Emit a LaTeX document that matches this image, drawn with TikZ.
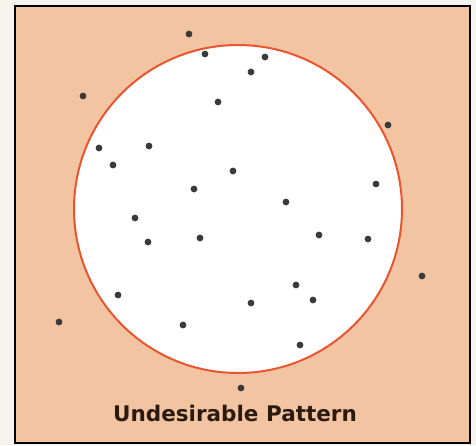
\documentclass[tikz,border=0pt]{standalone}
\usepackage{fontspec}
\setmainfont{DejaVu Sans}
\definecolor{pagebg}{HTML}{F6F4EE}
\definecolor{peach}{HTML}{F3C4A2}
\definecolor{rimred}{HTML}{E8552E}
\definecolor{dotgray}{HTML}{3A3A3A}
\definecolor{titlebrown}{HTML}{2B1A10}
\begin{document}
\begin{tikzpicture}[
    x=1pt, y=-1pt,
    panel/.style={fill=peach, draw=black, line width=1.4pt},
    sitecircle/.style={fill=white, draw=rimred, line width=2pt},
    plant/.style={fill=dotgray, draw=none},
    caption/.style={font=\bfseries\fontsize{21.5}{24}\selectfont, text=titlebrown, inner sep=0pt}
]
\def\cx{238}
\def\cy{209}
\def\rad{164}

\fill[pagebg] (0,0) rectangle (476,445);
\useasboundingbox (0,0) rectangle (476,445);
\draw[panel] (15,6) rectangle (470,443);
\draw[sitecircle] (\cx,\cy) circle[radius=\rad];

% points outside and inside the circle
\foreach \px/\py in {%
  189/34, 83/96, 388/125, 422/276, 59/322, 241/388,%
  205/54, 265/57, 251/72, 218/102, 99/148, 149/146, 113/165,%
  233/171, 194/189, 376/184, 286/202, 135/218, 148/242, 200/238,%
  319/235, 368/239, 118/295, 296/285, 313/300, 251/303, 183/325, 300/345}{
  \fill[plant] (\px,\py) circle[radius=3.4];
}

\node[caption, anchor=base] (title) at (235,421) {Undesirable Pattern};
\end{tikzpicture}
\end{document}
